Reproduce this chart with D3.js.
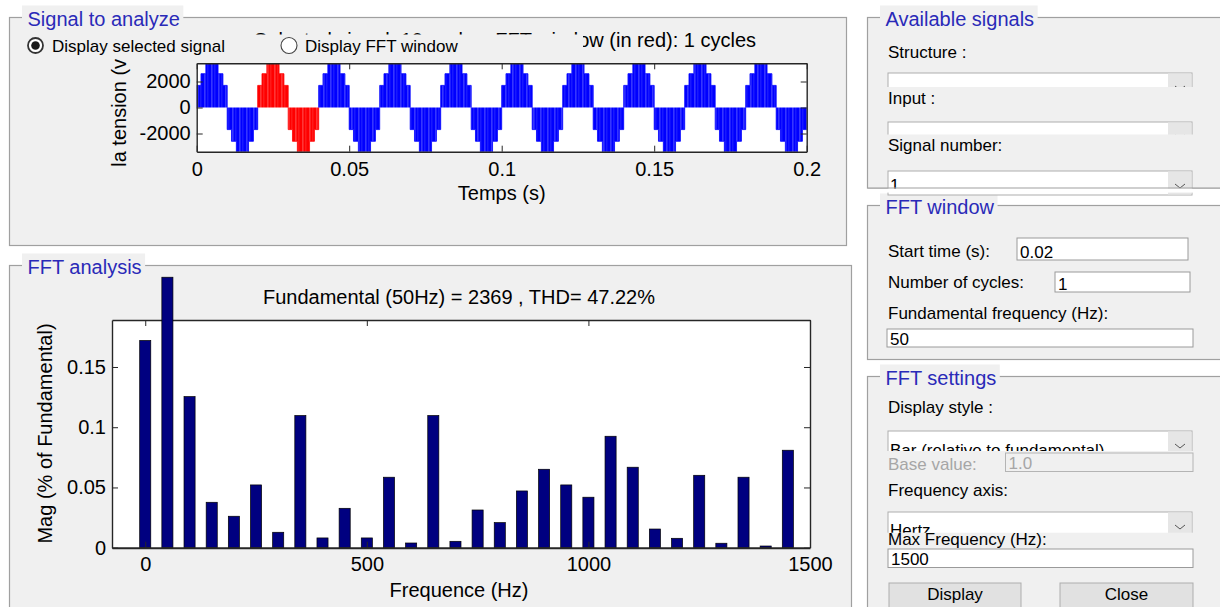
<!DOCTYPE html>
<html>
<head>
<meta charset="utf-8">
<script src="https://cdn.jsdelivr.net/npm/d3@7"></script>
<style>
body { margin: 0; background: #fff; }
svg { display: block; font-family: "Liberation Sans", Arial, sans-serif; }
</style>
</head>
<body>
<svg width="1220" height="607"></svg>
<script>
// signal (top plot)
var timeTicks = [0, 0.05, 0.1, 0.15, 0.2];
var voltTicks = [-2000, 0, 2000];
var stepEdges = [0, 0.0014, 0.003, 0.007, 0.0086, 0.01];   // s, inside one half cycle
var stepLevels = [1700, 2600, 3500, 2600, 1700];            // V
var fundamentalHz = 50;
var windowStart = 0.02;
var windowCycles = 1;
var signalCycles = 10;

// FFT bars
var harmFreq = [0, 50, 100, 150, 200, 250, 300, 350, 400, 450, 500, 550, 600, 650, 700,
                750, 800, 850, 900, 950, 1000, 1050, 1100, 1150, 1200, 1250, 1300, 1350, 1400, 1450];
var harmMag = [0.172, 0.2245, 0.1254, 0.0377, 0.0261, 0.0521, 0.0128, 0.1097, 0.0081, 0.0327,
               0.0081, 0.0585, 0.0039, 0.1097, 0.0053, 0.0313, 0.0208, 0.0471, 0.0651, 0.0521,
               0.0419, 0.0925, 0.0668, 0.0155, 0.0078, 0.0601, 0.0037, 0.0585, 0.0014, 0.0809];
var freqTicks = [0, 500, 1000, 1500];
var magTicks = [0, 0.05, 0.1, 0.15];

var svg = d3.select("svg");
var defs = svg.append("defs");

function stripes(id, base, light) {
    var p = defs.append("pattern").attr("id", id).attr("patternUnits", "userSpaceOnUse")
        .attr("width", 7).attr("height", 10);
    p.append("rect").attr("width", 7).attr("height", 10).attr("fill", base);
    p.append("rect").attr("x", 1.5).attr("width", 0.8).attr("height", 10).attr("fill", light).attr("opacity", 0.7);
    p.append("rect").attr("x", 4.6).attr("width", 0.6).attr("height", 10).attr("fill", light).attr("opacity", 0.4);
}
stripes("blueStripe", "#0000ff", "#9a9aff");
stripes("redStripe", "#ff0000", "#ff9a9a");

function drawPanel(x, y, w, h, title) {
    svg.append("rect").attr("x", x).attr("y", y).attr("width", w).attr("height", h)
        .attr("fill", "#f0f0f0").attr("stroke", "#a0a0a0").attr("stroke-width", 1.2);
    var bg = svg.append("rect").attr("fill", "#f0f0f0");
    var t = svg.append("text").attr("x", x + 18).attr("y", y + 8)
        .attr("font-size", 20).attr("fill", "#2a2ab8").text(title);
    var tw = t.node().getComputedTextLength();
    bg.attr("x", x + 12.5).attr("y", y - 12).attr("width", tw + 9).attr("height", 18);
}

// panels
drawPanel(9.5, 17.5, 837, 228, "Signal to analyze");
drawPanel(9.5, 265.5, 842, 360, "FFT analysis");
drawPanel(867.5, 17.5, 400, 171, "Available signals");
drawPanel(867.5, 205.5, 400, 154, "FFT window");
drawPanel(867.5, 376.5, 400, 260, "FFT settings");

function styleAxis(g) {
    g.selectAll("path").attr("stroke", "#262626").attr("stroke-width", 1.4);
    g.selectAll("line").attr("stroke", "#262626").attr("stroke-width", 1);
    g.selectAll("text").attr("font-size", 20).attr("fill", "#000")
        .attr("font-family", "'Liberation Sans', Arial, sans-serif");
}

// ---------- signal plot ----------
var sx = d3.scaleLinear().domain([0, 0.2]).range([196.7, 806.7]);
var sy = d3.scaleLinear().domain([-3400, 3400]).range([151.7, 63.3]);

svg.append("rect").attr("x", sx(0)).attr("y", sy(3400))
    .attr("width", sx(0.2) - sx(0)).attr("height", sy(-3400) - sy(3400)).attr("fill", "#fff");

defs.append("clipPath").attr("id", "sigClip").append("rect")
    .attr("x", sx(0)).attr("y", sy(3400))
    .attr("width", sx(0.2) - sx(0)).attr("height", sy(-3400) - sy(3400));

var halfPeriod = 1 / fundamentalHz / 2;
var windowEnd = windowStart + windowCycles / fundamentalHz;
var halves = d3.range(signalCycles * 2).map(function(k) {
    var t0 = k * halfPeriod, s = k % 2 ? -1 : 1;
    var pts = [[t0, 0]];
    stepLevels.forEach(function(v, i) {
        pts.push([t0 + stepEdges[i], s * v]);
        pts.push([t0 + stepEdges[i + 1], s * v]);
    });
    pts.push([t0 + halfPeriod, 0]);
    return { pts: pts, red: t0 >= windowStart - 1e-9 && t0 < windowEnd - 1e-9 };
});

var sigLine = d3.line().x(function(d) { return sx(d[0]); }).y(function(d) { return sy(d[1]); });

svg.append("g").attr("clip-path", "url(#sigClip)")
    .selectAll("path").data(halves).enter().append("path")
    .attr("d", function(d) { return sigLine(d.pts); })
    .attr("fill", function(d) { return d.red ? "url(#redStripe)" : "url(#blueStripe)"; })
    .attr("stroke", function(d) { return d.red ? "#ff0000" : "#0000ff"; })
    .attr("stroke-width", 0.8);

svg.append("g").attr("transform", "translate(0," + sy(-3400) + ")")
    .call(d3.axisBottom(sx).tickValues(timeTicks).tickFormat(String).tickSize(-6).tickSizeOuter(0).tickPadding(10.5))
    .call(styleAxis);
svg.append("g").attr("transform", "translate(0," + sy(3400) + ")")
    .call(d3.axisTop(sx).tickValues(timeTicks).tickFormat("").tickSize(-6).tickSizeOuter(0))
    .call(styleAxis);
svg.append("g").attr("transform", "translate(" + sx(0) + ",0)")
    .call(d3.axisLeft(sy).tickValues(voltTicks).tickFormat(String).tickSize(-6).tickSizeOuter(0).tickPadding(6))
    .call(styleAxis);
svg.append("g").attr("transform", "translate(" + sx(0.2) + ",0)")
    .call(d3.axisRight(sy).tickValues(voltTicks).tickFormat("").tickSize(-6).tickSizeOuter(0))
    .call(styleAxis);

svg.append("text").attr("x", (sx(0) + sx(0.2)) / 2).attr("y", 200)
    .attr("text-anchor", "middle").attr("font-size", 20).text("Temps (s)");
svg.append("text").attr("transform", "translate(126,109.5) rotate(-90)")
    .attr("text-anchor", "middle").attr("font-size", 20).text("la tension (v)");
svg.append("text").attr("x", 505).attr("y", 46.5).attr("text-anchor", "middle").attr("font-size", 20)
    .text("Selected signal: " + signalCycles + " cycles. FFT window (in red): " + windowCycles + " cycles");

// radio buttons (their background hides most of the title, as in the GUI)
svg.append("rect").attr("x", 22).attr("y", 34.5).attr("width", 561).attr("height", 24.5).attr("fill", "#f0f0f0");
svg.append("circle").attr("cx", 35.5).attr("cy", 45.5).attr("r", 7.5)
    .attr("fill", "#fff").attr("stroke", "#333").attr("stroke-width", 1.8);
svg.append("circle").attr("cx", 35.5).attr("cy", 45.5).attr("r", 4.3).attr("fill", "#1a1a1a");
svg.append("text").attr("x", 52).attr("y", 51.5).attr("font-size", 17).text("Display selected signal");
svg.append("circle").attr("cx", 289).attr("cy", 45.5).attr("r", 8)
    .attr("fill", "#fff").attr("stroke", "#444").attr("stroke-width", 1.1);
svg.append("text").attr("x", 305).attr("y", 51.5).attr("font-size", 17).text("Display FFT window");

// ---------- FFT plot ----------
var fx = d3.scaleLinear().domain([-75, 1500]).range([112, 810]);
var fy = d3.scaleLinear().domain([0, 0.189]).range([547.7, 320]);

svg.append("rect").attr("x", fx(-75)).attr("y", fy(0.189))
    .attr("width", fx(1500) - fx(-75)).attr("height", fy(0) - fy(0.189)).attr("fill", "#fff");

svg.append("g").attr("transform", "translate(0," + fy(0.189) + ")")
    .call(d3.axisTop(fx).tickValues(freqTicks).tickFormat("").tickSize(-6).tickSizeOuter(0))
    .call(styleAxis);
svg.append("g").attr("transform", "translate(" + fx(-75) + ",0)")
    .call(d3.axisLeft(fy).tickValues(magTicks).tickFormat(String).tickSize(-6).tickSizeOuter(0).tickPadding(6))
    .call(styleAxis);
svg.append("g").attr("transform", "translate(" + fx(1500) + ",0)")
    .call(d3.axisRight(fy).tickValues(magTicks).tickFormat("").tickSize(-6).tickSizeOuter(0))
    .call(styleAxis);

var barW = fx(25) - fx(0);
svg.append("g").selectAll("rect").data(harmFreq).enter().append("rect")
    .attr("x", function(d) { return fx(d) - barW / 2; })
    .attr("y", function(d, i) { return fy(harmMag[i]); })
    .attr("width", barW)
    .attr("height", function(d, i) { return fy(0) - fy(harmMag[i]); })
    .attr("fill", "#000080").attr("stroke", "#000").attr("stroke-width", 0.7);

svg.append("g").attr("transform", "translate(0," + fy(0) + ")")
    .call(d3.axisBottom(fx).tickValues(freqTicks).tickFormat(String).tickSize(-6).tickSizeOuter(0).tickPadding(9.5))
    .call(styleAxis)
    .select("path").attr("stroke-width", 2);

svg.append("text").attr("x", 459).attr("y", 303.5).attr("text-anchor", "middle").attr("font-size", 20)
    .text("Fundamental (" + fundamentalHz + "Hz) = 2369 , THD= 47.22%");
svg.append("text").attr("x", 459).attr("y", 597).attr("text-anchor", "middle").attr("font-size", 20)
    .text("Frequence (Hz)");
svg.append("text").attr("transform", "translate(51.5,433.5) rotate(-90)")
    .attr("text-anchor", "middle").attr("font-size", 20).text("Mag (% of Fundamental)");

// ---------- right hand controls ----------
function label(x, y, txt, color) {
    svg.append("text").attr("x", x).attr("y", y).attr("font-size", 17)
        .attr("fill", color || "#000").text(txt);
}
function cover(y, h) {
    svg.append("rect").attr("x", 884).attr("y", y).attr("width", 312).attr("height", h).attr("fill", "#f0f0f0");
}
function editBox(x, y, w, h, txt, disabled) {
    svg.append("rect").attr("x", x).attr("y", y).attr("width", w).attr("height", h)
        .attr("fill", disabled ? "#f0f0f0" : "#fff").attr("stroke", disabled ? "#b4b4b4" : "#9a9a9a");
    label(x + 3, y + h - 2.5, txt, disabled ? "#a6a6a6" : "#000");
}
function dropdown(y, txt, base) {
    svg.append("rect").attr("x", 888).attr("y", y).attr("width", 304).attr("height", 24)
        .attr("fill", "#fff").attr("stroke", "#adadad");
    svg.append("rect").attr("x", 1168).attr("y", y + 0.5).attr("width", 23.5).attr("height", 23)
        .attr("fill", "#e6e6e6");
    svg.append("polyline")
        .attr("points", [[1175, y + 13], [1180, y + 17], [1185, y + 13]].join(" "))
        .attr("fill", "none").attr("stroke", "#555").attr("stroke-width", 1);
    if (txt) label(890, base, txt);
}
function button(x, y, w, txt) {
    svg.append("rect").attr("x", x).attr("y", y).attr("width", w).attr("height", 30)
        .attr("fill", "#e1e1e1").attr("stroke", "#adadad");
    svg.append("text").attr("x", x + w / 2).attr("y", 600).attr("text-anchor", "middle")
        .attr("font-size", 17).text(txt);
}

// Available signals
label(888, 58, "Structure :");
dropdown(73, "", 0);
cover(87, 35);
label(888, 104, "Input :");
dropdown(122, "", 0);
cover(134.5, 36.5);
label(888, 151, "Signal number:");
dropdown(171, "1", 191);
svg.append("rect").attr("x", 866).attr("y", 188.6).attr("width", 360).attr("height", 4).attr("fill", "#fff");
svg.append("line").attr("x1", 867.5).attr("x2", 1220).attr("y1", 188).attr("y2", 188)
    .attr("stroke", "#a0a0a0").attr("stroke-width", 1.2);

// FFT window
label(888, 257, "Start time (s):");
editBox(1017, 238, 171, 22, String(windowStart));
label(888, 288, "Number of cycles:");
editBox(1055, 272, 135, 20, String(windowCycles));
label(888, 319, "Fundamental frequency (Hz):");
editBox(887, 329, 306, 18, String(fundamentalHz));

// FFT settings
label(888, 413, "Display style :");
dropdown(431, "Bar (relative to fundamental)", 455.5);
cover(451, 27);
label(888, 470, "Base value:", "#a6a6a6");
editBox(1005.5, 453, 187.5, 18.5, "1.0", true);
label(888, 496, "Frequency axis:");
dropdown(512, "Hertz", 536);
cover(532.7, 16);
label(888, 545, "Max Frequency (Hz):");
editBox(888, 549, 305, 18.5, "1500");
button(889, 583, 132, "Display");
button(1060, 583, 133, "Close");
</script>
</body>
</html>
